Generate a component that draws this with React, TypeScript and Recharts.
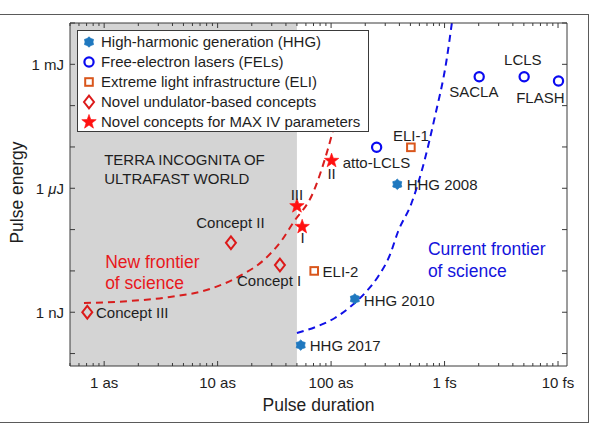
import React from 'react';
import { ComposedChart, Scatter, Line, XAxis, YAxis, ReferenceArea, Legend } from 'recharts';

const FONT = '"Liberation Sans", Arial, Helvetica, sans-serif';
const AXIS = '#3a3a3a';
const TEXT = '#1e1e1e';

// Pulse duration in attoseconds, pulse energy in nanojoules
const hhgNames = ['HHG 2017', 'HHG 2010', 'HHG 2008'];
const hhgDuration = [54, 162, 383];
const hhgEnergy = [0.16, 2.1, 1250];

const felNames = ['atto-LCLS', 'SACLA', 'LCLS', 'FLASH'];
const felDuration = [252, 2020, 5030, 10100];
const felEnergy = [9800, 5.0e5, 5.0e5, 3.95e5];

const eliNames = ['ELI-1', 'ELI-2'];
const eliDuration = [505, 71];
const eliEnergy = [9800, 10];

const undulatorNames = ['Concept III', 'Concept II', 'Concept I'];
const undulatorDuration = [0.71, 13.1, 35.4];
const undulatorEnergy = [1.0, 48, 13.9];

const maxivNames = ['III', 'I', 'II'];
const maxivDuration = [50, 55.6, 101];
const maxivEnergy = [372, 117, 4650];

const newFrontierDuration = [0.664, 1.69, 3.8, 8.56, 15.7, 26.1, 36.9, 46.1, 69.2, 93.2, 110];
const newFrontierEnergy = [1.67, 1.87, 2.34, 3.65, 7.54, 19.4, 56, 144, 769, 8440, 45000];

const currentFrontierDuration = [50, 75, 108, 147, 199, 259, 330, 388, 512, 644, 822, 1042, 1160];
const currentFrontierEnergy = [0.315, 0.452, 0.726, 1.34, 2.92, 7.25, 24.3, 87.5, 440, 3330, 54000, 1.27e6, 1e7];

// Region annotations (anchored at the first line's left edge)
const noteLines = [
  ['TERRA INCOGNITA OF', 'ULTRAFAST WORLD'],
  ['New frontier', 'of science'],
  ['Current frontier', 'of science'],
];
const noteDuration = [1.0, 1.02, 713];
const noteEnergy = [4830, 16.7, 34];

const legendLabels = [
  'High-harmonic generation (HHG)',
  'Free-electron lasers (FELs)',
  'Extreme light infrastructure (ELI)',
  'Novel undulator-based concepts',
  'Novel concepts for MAX IV parameters',
];

const xTickLabels: Record<number, string> = { 1: '1 as', 10: '10 as', 100: '100 as', 1000: '1 fs', 10000: '10 fs' };
const yTickLabels: Record<number, string> = { 1: '1 nJ', 1000: '1 \u03bcJ', 1000000: '1 mJ' };

const xDecades = [0.1, 1, 10, 100, 1000, 10000];
const xTicks = xDecades
  .flatMap((d) => [1, 2, 3, 4, 5, 6, 7, 8, 9].map((k) => +(k * d).toPrecision(3)))
  .filter((v) => v >= 0.5 && v <= 12000);
const yTicks = [0.1, 1, 10, 100, 1000, 1e4, 1e5, 1e6, 1e7];

const X_DOMAIN: [number, number] = [0.5, 12000];
const Y_DOMAIN: [number, number] = [0.05, 1e7];

const toPoints = (names: string[], t: number[], e: number[]) =>
  t.map((v, i) => ({ t: v, e: e[i], name: names[i] }));
const toCurve = (t: number[], e: number[]) => t.map((v, i) => ({ t: v, e: e[i] }));

const hhgData = toPoints(hhgNames, hhgDuration, hhgEnergy);
const felData = toPoints(felNames, felDuration, felEnergy);
const eliData = toPoints(eliNames, eliDuration, eliEnergy);
const undulatorData = toPoints(undulatorNames, undulatorDuration, undulatorEnergy);
const maxivData = toPoints(maxivNames, maxivDuration, maxivEnergy);
const noteData = noteDuration.map((t, i) => ({ t, e: noteEnergy[i], lines: noteLines[i], idx: i }));
const newFrontier = toCurve(newFrontierDuration, newFrontierEnergy);
const currentFrontier = toCurve(currentFrontierDuration, currentFrontierEnergy);

const COLORS = {
  hhg: '#1f78bf',
  fel: '#0a0af0',
  eli: '#d9561c',
  undulator: '#dc1a1a',
  maxiv: '#ff1010',
  redCurve: '#d81e1e',
  blueCurve: '#1010e6',
  newText: '#e8181c',
  curText: '#1414dc',
};

const noteStyle = [
  { color: TEXT, size: 15, gap: 19 },
  { color: COLORS.newText, size: 17.5, gap: 21.5 },
  { color: COLORS.curText, size: 17.5, gap: 21.7 },
];

type Placement = { dx: number; dy: number; anchor: 'start' | 'middle' | 'end' };
const labelPlacement: Record<string, Placement> = {
  'HHG 2017': { dx: 9, dy: 1, anchor: 'start' },
  'HHG 2010': { dx: 9, dy: 1.4, anchor: 'start' },
  'HHG 2008': { dx: 9.4, dy: 0.7, anchor: 'start' },
  'atto-LCLS': { dx: -34, dy: 15.4, anchor: 'start' },
  SACLA: { dx: -5.3, dy: 15, anchor: 'middle' },
  LCLS: { dx: -1.3, dy: -16.7, anchor: 'middle' },
  FLASH: { dx: -18.2, dy: 16.3, anchor: 'middle' },
  'ELI-1': { dx: 0, dy: -11.3, anchor: 'middle' },
  'ELI-2': { dx: 8.4, dy: 1.3, anchor: 'start' },
  'Concept III': { dx: 8.7, dy: 0.7, anchor: 'start' },
  'Concept II': { dx: -0.5, dy: -20, anchor: 'middle' },
  'Concept I': { dx: -10.8, dy: 16, anchor: 'middle' },
  III: { dx: 0, dy: -11.5, anchor: 'middle' },
  I: { dx: 0.5, dy: 10.6, anchor: 'middle' },
  II: { dx: 0, dy: 13.3, anchor: 'middle' },
};

const starPoints = (cx: number, cy: number, n: number, R: number, r: number) => {
  const pts: string[] = [];
  for (let i = 0; i < 2 * n; i++) {
    const a = -Math.PI / 2 + (i * Math.PI) / n;
    const rad = i % 2 === 0 ? R : r;
    pts.push(`${(cx + rad * Math.cos(a)).toFixed(2)},${(cy + rad * Math.sin(a)).toFixed(2)}`);
  }
  return pts.join(' ');
};

type Kind = 'hhg' | 'fel' | 'eli' | 'undulator' | 'maxiv';

const Marker = ({ kind, cx, cy }: { kind: Kind; cx: number; cy: number }) => {
  switch (kind) {
    case 'hhg':
      return <polygon points={starPoints(cx, cy, 6, 5.2, 3.9)} fill={COLORS.hhg} stroke={COLORS.hhg} strokeWidth={0.8} />;
    case 'fel':
      return <circle cx={cx} cy={cy} r={4.6} fill="none" stroke={COLORS.fel} strokeWidth={2.2} />;
    case 'eli':
      return <rect x={cx - 3.8} y={cy - 3.8} width={7.6} height={7.6} fill="none" stroke={COLORS.eli} strokeWidth={2} />;
    case 'undulator':
      return (
        <polygon
          points={`${cx},${cy - 6.3} ${cx + 5},${cy} ${cx},${cy + 6.3} ${cx - 5},${cy}`}
          fill="none"
          stroke={COLORS.undulator}
          strokeWidth={2}
          strokeLinejoin="miter"
        />
      );
    default:
      return <polygon points={starPoints(cx, cy, 5, 7.6, 3.1)} fill={COLORS.maxiv} stroke={COLORS.maxiv} strokeWidth={0.6} />;
  }
};

const pointShape = (kind: Kind) => (props: any) => {
  const { cx, cy, payload } = props;
  const p = labelPlacement[payload.name];
  return (
    <g>
      <Marker kind={kind} cx={cx} cy={cy} />
      {p && (
        <text
          x={cx + p.dx}
          y={cy + p.dy}
          dy="0.35em"
          textAnchor={p.anchor}
          fontSize={15}
          fontFamily={FONT}
          fill={TEXT}
        >
          {payload.name}
        </text>
      )}
    </g>
  );
};

const noteShape = (props: any) => {
  const { cx, cy, payload } = props;
  const s = noteStyle[payload.idx];
  return (
    <text x={cx} y={cy} fontSize={s.size} fontFamily={FONT} fill={s.color}>
      {payload.lines.map((ln: string, i: number) => (
        <tspan key={i} x={cx} dy={i === 0 ? '0.35em' : s.gap}>
          {ln}
        </tspan>
      ))}
    </text>
  );
};

const xTick = (side: 'bottom' | 'top') => (props: any) => {
  const { x, y, payload } = props;
  const label = xTickLabels[payload.value];
  const len = label ? 5 : 3;
  const d = side === 'bottom' ? -len : len;
  return (
    <g>
      <line x1={x} x2={x} y1={y} y2={y + d} stroke={AXIS} strokeWidth={1} />
      {side === 'bottom' && label && (
        <text x={x} y={y + 22} textAnchor="middle" fontSize={15} fontFamily={FONT} fill={TEXT}>
          {label}
        </text>
      )}
    </g>
  );
};

const yTick = (side: 'left' | 'right') => (props: any) => {
  const { x, y, payload } = props;
  const label = yTickLabels[payload.value];
  const d = side === 'left' ? 5 : -5;
  let text: React.ReactNode = null;
  if (side === 'left' && label) {
    const parts = label.split('\u03bc');
    text = (
      <text x={x - 6} y={y} dy="0.36em" textAnchor="end" fontSize={15} fontFamily={FONT} fill={TEXT}>
        {parts.length > 1 ? (
          <>
            {parts[0]}
            <tspan fontStyle="italic">{'\u03bc'}</tspan>
            {parts[1]}
          </>
        ) : (
          label
        )}
      </text>
    );
  }
  return (
    <g>
      <line x1={x} x2={x + d} y1={y} y2={y} stroke={AXIS} strokeWidth={1} />
      {text}
    </g>
  );
};

const legendKinds: Kind[] = ['hhg', 'fel', 'eli', 'undulator', 'maxiv'];

const renderLegend = () => (
  <div
    style={{
      boxSizing: 'border-box',
      width: 292,
      height: 102,
      border: `1px solid ${AXIS}`,
      background: '#ffffff',
      paddingTop: 1,
    }}
  >
    {legendLabels.map((lbl, i) => (
      <div key={lbl} style={{ display: 'flex', alignItems: 'center', height: 20 }}>
        <svg width={22} height={20} style={{ display: 'block', flex: 'none' }}>
          <Marker kind={legendKinds[i]} cx={11} cy={10} />
        </svg>
        <span style={{ fontFamily: FONT, fontSize: 15, color: TEXT, marginLeft: 1, whiteSpace: 'nowrap', lineHeight: '20px' }}>
          {lbl}
        </span>
      </div>
    ))}
  </div>
);

export default function App() {
  return (
    <div style={{ position: 'absolute', left: 0, top: 0, width: 594, height: 424, background: '#ffffff', overflow: 'hidden' }}>
      <div
        style={{
          position: 'absolute',
          left: -2,
          top: 14,
          width: 591,
          height: 409,
          boxSizing: 'border-box',
          border: '1px solid #5a5a5a',
        }}
      />
      <ComposedChart width={594} height={424} margin={{ top: 22, right: 26, bottom: 57, left: 69 }}>
        <ReferenceArea
          xAxisId="bottom"
          yAxisId="left"
          x1={0.5}
          x2={50}
          y1={Y_DOMAIN[0]}
          y2={Y_DOMAIN[1]}
          fill="#d4d4d4"
          fillOpacity={1}
          stroke="none"
          ifOverflow="hidden"
        />
        <XAxis
          xAxisId="bottom"
          dataKey="t"
          type="number"
          scale="log"
          domain={X_DOMAIN}
          allowDataOverflow
          ticks={xTicks}
          interval={0}
          height={1}
          tickSize={0}
          tickMargin={0}
          tickLine={false}
          axisLine={{ stroke: AXIS, strokeWidth: 1 }}
          tick={xTick('bottom')}
          label={(p: any) => {
            const vb = p.viewBox;
            return (
              <text x={vb.x + vb.width / 2} y={411} textAnchor="middle" fontSize={17.5} fontFamily={FONT} fill={TEXT}>
                Pulse duration
              </text>
            );
          }}
        />
        <XAxis
          xAxisId="top"
          orientation="top"
          dataKey="t"
          type="number"
          scale="log"
          domain={X_DOMAIN}
          allowDataOverflow
          ticks={xTicks}
          interval={0}
          height={1}
          tickSize={0}
          tickMargin={0}
          tickLine={false}
          axisLine={{ stroke: AXIS, strokeWidth: 1 }}
          tick={xTick('top')}
        />
        <YAxis
          yAxisId="left"
          dataKey="e"
          type="number"
          scale="log"
          domain={Y_DOMAIN}
          allowDataOverflow
          ticks={yTicks}
          interval={0}
          width={1}
          tickSize={0}
          tickMargin={0}
          tickLine={false}
          axisLine={{ stroke: AXIS, strokeWidth: 1 }}
          tick={yTick('left')}
          label={(p: any) => {
            const vb = p.viewBox;
            const cy = vb.y + vb.height / 2 - 2;
            return (
              <text
                x={23}
                y={cy}
                transform={`rotate(-90 23 ${cy})`}
                textAnchor="middle"
                fontSize={17.5}
                fontFamily={FONT}
                fill={TEXT}
              >
                Pulse energy
              </text>
            );
          }}
        />
        <YAxis
          yAxisId="right"
          orientation="right"
          dataKey="e"
          type="number"
          scale="log"
          domain={Y_DOMAIN}
          allowDataOverflow
          ticks={yTicks}
          interval={0}
          width={1}
          tickSize={0}
          tickMargin={0}
          tickLine={false}
          axisLine={{ stroke: AXIS, strokeWidth: 1 }}
          tick={yTick('right')}
        />
        <Scatter
          data={noteData}
          xAxisId="bottom"
          yAxisId="left"
          dataKey="e"
          shape={noteShape}
          isAnimationActive={false}
          legendType="none"
        />
        <Line
          data={newFrontier}
          xAxisId="bottom"
          yAxisId="left"
          dataKey="e"
          type="monotone"
          stroke={COLORS.redCurve}
          strokeWidth={2}
          strokeDasharray="7 5"
          dot={false}
          activeDot={false}
          isAnimationActive={false}
        />
        <Line
          data={currentFrontier}
          xAxisId="bottom"
          yAxisId="left"
          dataKey="e"
          type="monotone"
          stroke={COLORS.blueCurve}
          strokeWidth={2}
          strokeDasharray="7 5"
          dot={false}
          activeDot={false}
          isAnimationActive={false}
        />
        <Scatter data={hhgData} xAxisId="bottom" yAxisId="left" dataKey="e" shape={pointShape('hhg')} isAnimationActive={false} />
        <Scatter data={felData} xAxisId="bottom" yAxisId="left" dataKey="e" shape={pointShape('fel')} isAnimationActive={false} />
        <Scatter data={eliData} xAxisId="bottom" yAxisId="left" dataKey="e" shape={pointShape('eli')} isAnimationActive={false} />
        <Scatter data={undulatorData} xAxisId="bottom" yAxisId="left" dataKey="e" shape={pointShape('undulator')} isAnimationActive={false} />
        <Scatter data={maxivData} xAxisId="bottom" yAxisId="left" dataKey="e" shape={pointShape('maxiv')} isAnimationActive={false} />
        <Legend
          layout="vertical"
          align="center"
          verticalAlign="middle"
          content={renderLegend}
          wrapperStyle={{ left: 77, top: 30, width: 292, height: 102 }}
        />
      </ComposedChart>
    </div>
  );
}
